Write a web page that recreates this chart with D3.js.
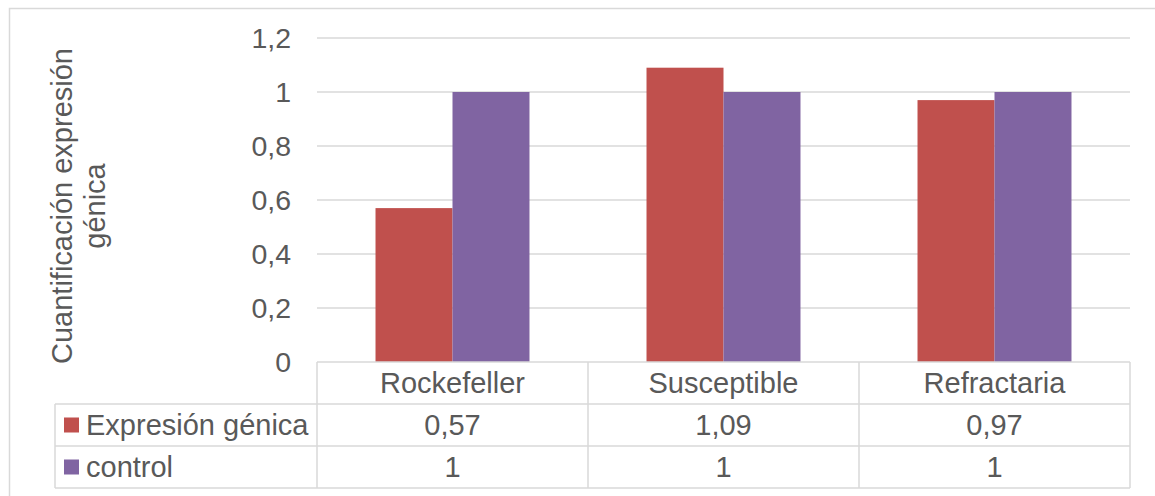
<!DOCTYPE html>
<html>
<head>
<meta charset="utf-8">
<script src="https://cdn.jsdelivr.net/npm/d3@7/dist/d3.min.js"></script>
<style>
  html, body { margin: 0; padding: 0; background: #fff; }
  svg { display: block; font-family: "Liberation Sans", Arial, sans-serif; }
</style>
</head>
<body>
<svg id="chart" width="1155" height="496"></svg>
<script>
// Data
const categories = ["Rockefeller", "Susceptible", "Refractaria"];
const seriesNames = ["Expresión génica", "control"];
const expresion = [0.57, 1.09, 0.97];
const control = [1, 1, 1];
const seriesColors = ["#C0504D", "#8064A2"];
const yTicks = [0, 0.2, 0.4, 0.6, 0.8, 1, 1.2];
const yTitle = ["Cuantificación expresión", "génica"];

const values = [expresion, control];
const fmt = v => String(v).replace(".", ",");

const svg = d3.select("#chart");
const textColor = "#595959";
const lineColor = "#D9D9D9";
const fontSize = 29;
const tickFontSize = 28.5;

// Layout
const plot = { left: 317, right: 1130, top: 38, bottom: 362 };
const rowH = 42;
const legendLeft = 55;

// Outer chart frame
svg.append("rect")
  .attr("x", 9.5).attr("y", 8.5)
  .attr("width", 1160).attr("height", 500)
  .attr("fill", "none").attr("stroke", lineColor).attr("stroke-width", 1.5);

const x0 = d3.scaleBand().domain(categories).range([plot.left, plot.right]).paddingInner(0).paddingOuter(0);
const x1 = d3.scaleBand().domain(seriesNames).range([0, x0.bandwidth()]).paddingInner(0).paddingOuter(0.76);
const y = d3.scaleLinear().domain([0, 1.2]).range([plot.bottom, plot.top]);

// Gridlines
svg.append("g").selectAll("line").data(yTicks.filter(t => t > 0)).join("line")
  .attr("x1", plot.left).attr("x2", plot.right)
  .attr("y1", d => y(d)).attr("y2", d => y(d))
  .attr("stroke", lineColor).attr("stroke-width", 1.5);

// Y axis labels
const yAxis = d3.axisLeft(y).tickValues(yTicks).tickFormat(fmt).tickSize(0).tickPadding(26);
const yg = svg.append("g").attr("transform", `translate(${plot.left},0)`).call(yAxis);
yg.select(".domain").remove();
yg.selectAll("text").attr("fill", textColor).attr("font-size", tickFontSize)
  .attr("font-family", "Liberation Sans, Arial, sans-serif");

// Bars
const groups = svg.append("g").selectAll("g").data(categories).join("g")
  .attr("transform", d => `translate(${x0(d)},0)`);
groups.selectAll("rect")
  .data((c, i) => seriesNames.map((s, j) => ({ s, j, v: values[j][i] })))
  .join("rect")
  .attr("x", d => x1(d.s))
  .attr("width", x1.bandwidth())
  .attr("y", d => y(d.v))
  .attr("height", d => y(0) - y(d.v))
  .attr("fill", d => seriesColors[d.j]);

// Data table
const tbl = svg.append("g");
const tTop = plot.bottom;
const border = (x1_, y1_, x2_, y2_) => tbl.append("line")
  .attr("x1", x1_).attr("y1", y1_).attr("x2", x2_).attr("y2", y2_)
  .attr("stroke", lineColor).attr("stroke-width", 1.5);

// horizontal lines
border(plot.left, tTop, plot.right, tTop);
for (let r = 1; r <= 3; r++) border(legendLeft, tTop + r * rowH, plot.right, tTop + r * rowH);
// vertical lines
border(legendLeft, tTop + rowH, legendLeft, tTop + 3 * rowH);
categories.forEach(c => border(x0(c), tTop, x0(c), tTop + 3 * rowH));
border(plot.right, tTop, plot.right, tTop + 3 * rowH);

// header: category names
tbl.selectAll("text.cat").data(categories).join("text")
  .attr("class", "cat")
  .attr("x", d => x0(d) + x0.bandwidth() / 2)
  .attr("y", tTop + rowH / 2)
  .attr("dy", "0.36em")
  .attr("text-anchor", "middle")
  .attr("fill", textColor).attr("font-size", fontSize)
  .text(d => d);

// value rows with legend keys
seriesNames.forEach((s, j) => {
  const cy = tTop + (j + 1.5) * rowH;
  tbl.append("rect")
    .attr("x", 64).attr("y", cy - 7.5).attr("width", 15).attr("height", 15)
    .attr("fill", seriesColors[j]);
  tbl.append("text")
    .attr("x", 86).attr("y", cy).attr("dy", "0.36em")
    .attr("fill", textColor).attr("font-size", fontSize)
    .text(s);
  tbl.selectAll(null).data(categories).join("text")
    .attr("x", d => x0(d) + x0.bandwidth() / 2)
    .attr("y", cy).attr("dy", "0.36em")
    .attr("text-anchor", "middle")
    .attr("fill", textColor).attr("font-size", fontSize)
    .text((d, i) => fmt(values[j][i]));
});

// Y axis title (two lines, rotated)
const title = svg.append("text")
  .attr("transform", `translate(72,206) rotate(-90)`)
  .attr("text-anchor", "middle")
  .attr("fill", textColor).attr("font-size", fontSize);
yTitle.forEach((t, i) => {
  title.append("tspan").attr("x", 0).attr("y", i * 33).text(t);
});
</script>
</body>
</html>
